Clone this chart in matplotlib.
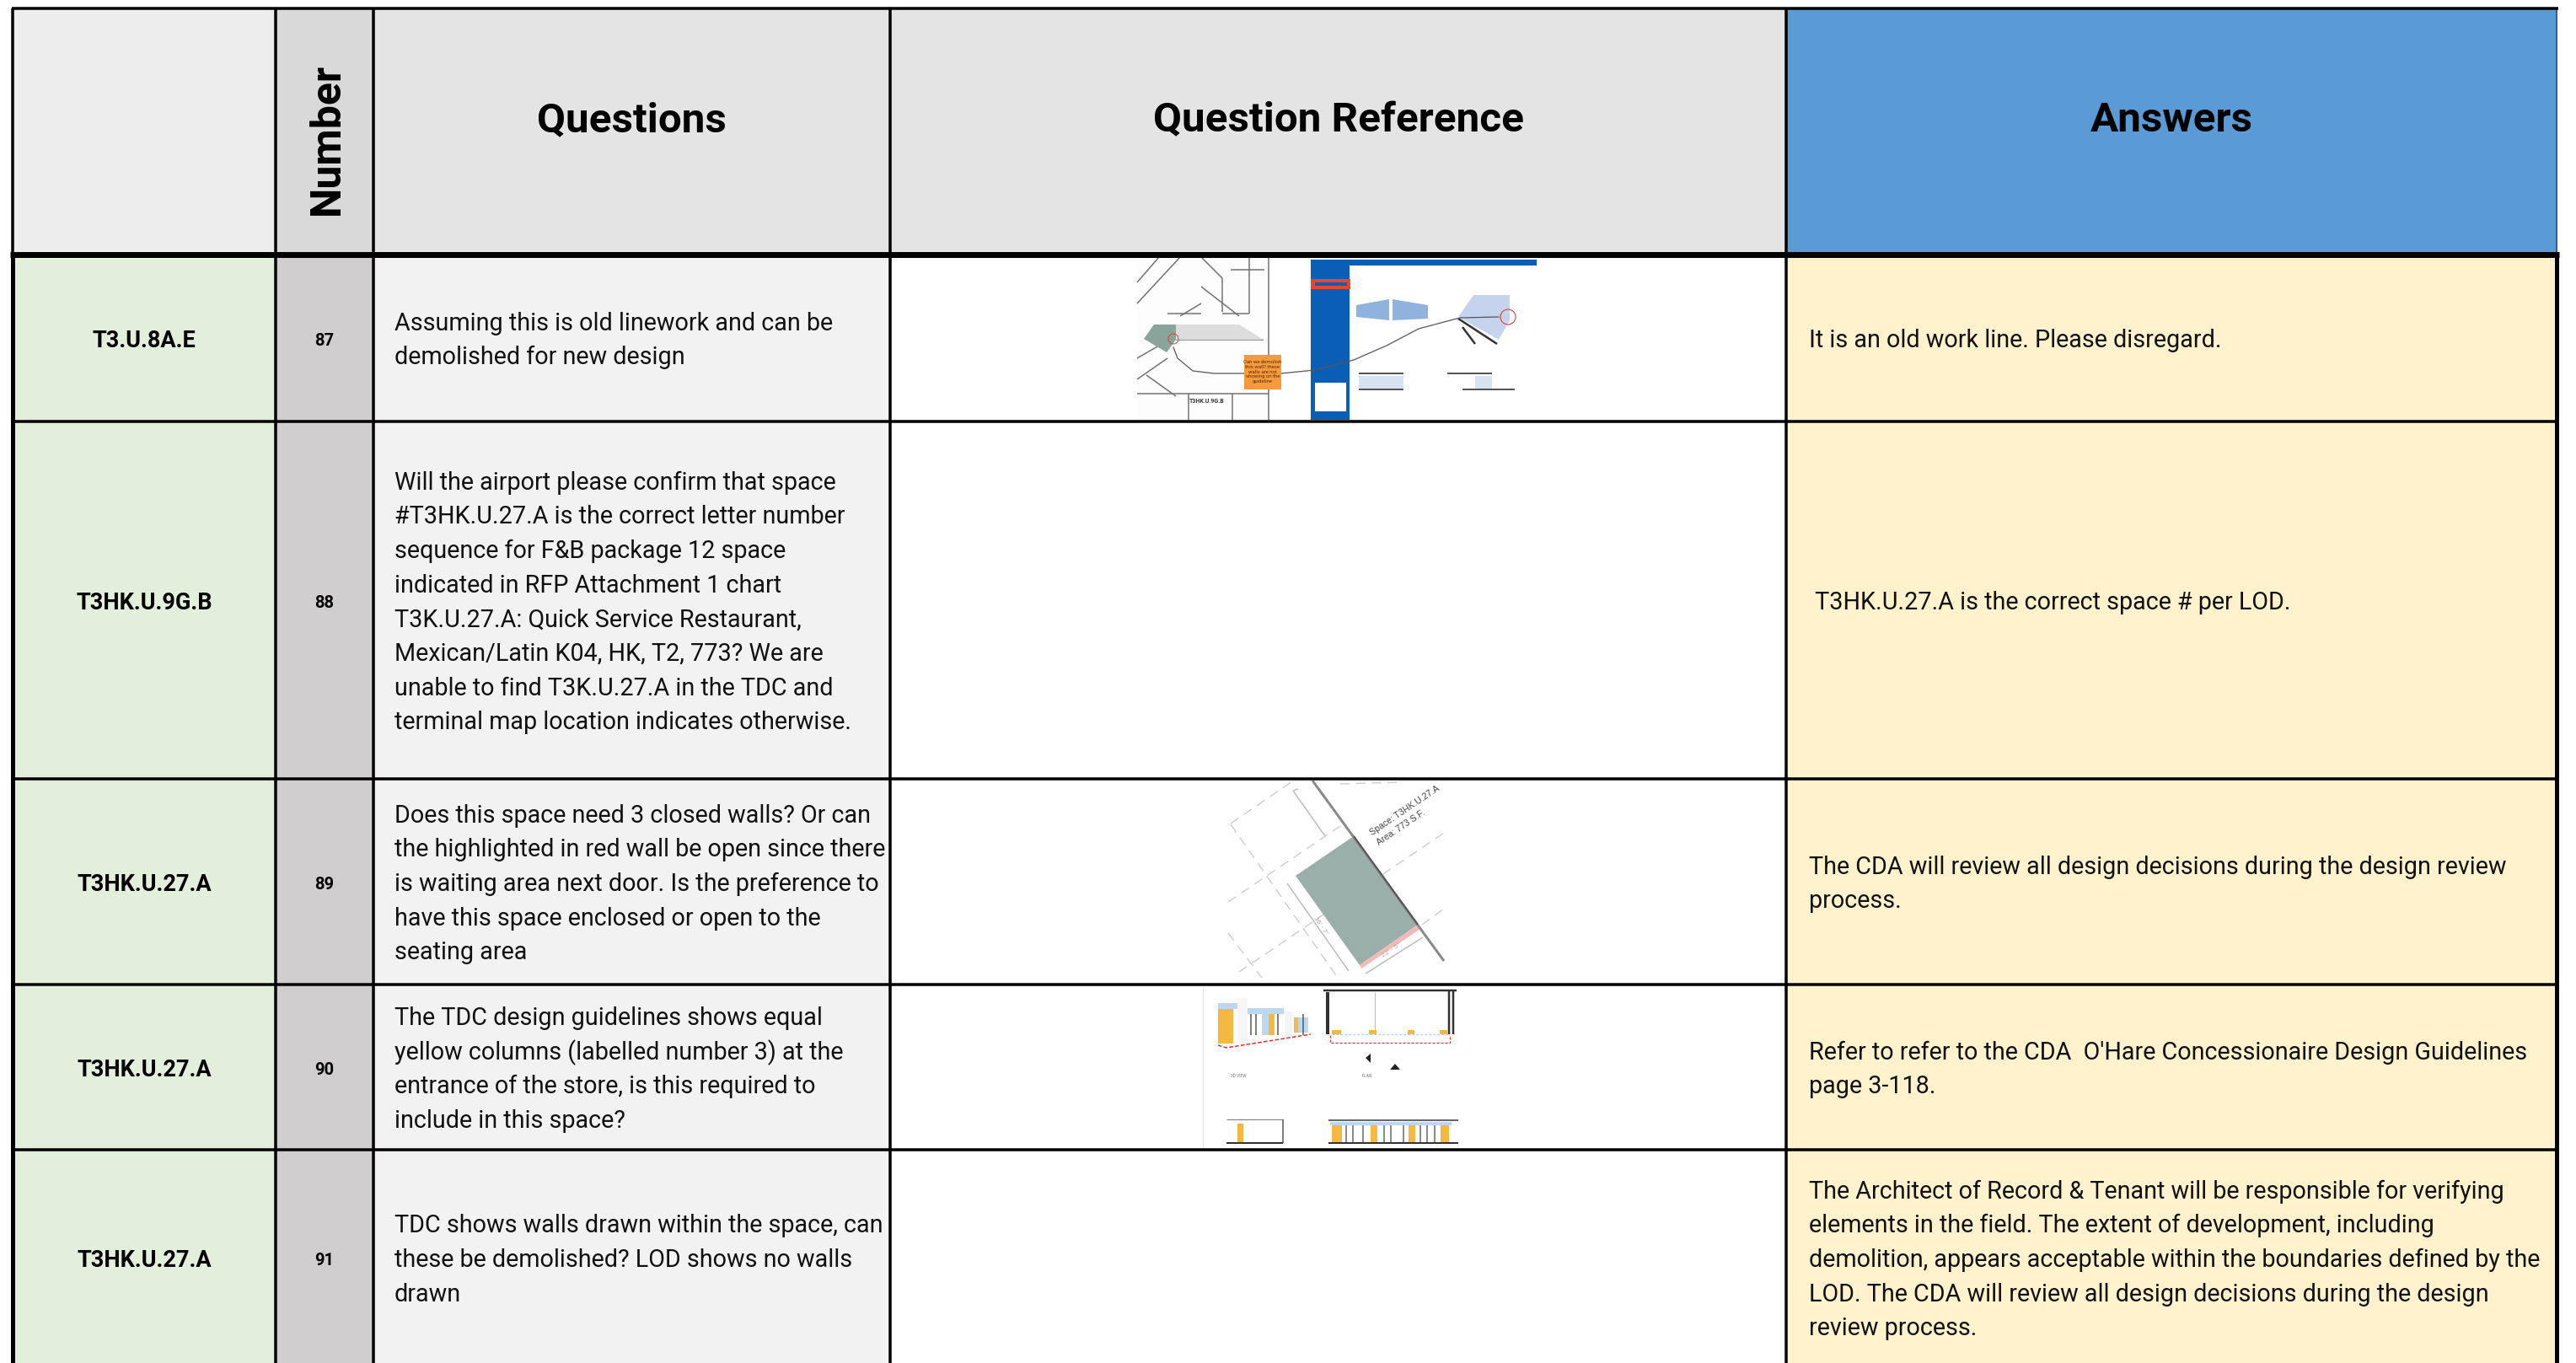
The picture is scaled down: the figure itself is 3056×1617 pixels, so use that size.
import matplotlib
matplotlib.use("Agg")
import matplotlib.pyplot as plt
from matplotlib.patches import Rectangle, Polygon, Circle

W, H = 3056, 1617

plt.rcParams['font.family'] = ['Roboto', 'DejaVu Sans']

col_edges = [15, 327, 443, 1056, 2119, 3033]
row_edges = [302, 500, 924, 1168, 1364, 1660]
header_labels = ["", "Number", "Questions", "Question Reference", "Answers"]
header_colors = ["#ededed", "#d9d9d9", "#e4e4e4", "#e4e4e4", "#5b9bd5"]

space_ids = ["T3.U.8A.E", "T3HK.U.9G.B", "T3HK.U.27.A", "T3HK.U.27.A", "T3HK.U.27.A"]
numbers = ["87", "88", "89", "90", "91"]
questions = [
    ["Assuming this is old linework and can be", "demolished for new design"],
    ["Will the airport please confirm that space", "#T3HK.U.27.A is the correct letter number",
     "sequence for F&B package 12 space", "indicated in RFP Attachment 1 chart",
     "T3K.U.27.A: Quick Service Restaurant,", "Mexican/Latin K04, HK, T2, 773? We are",
     "unable to find T3K.U.27.A in the TDC and", "terminal map location indicates otherwise."],
    ["Does this space need 3 closed walls? Or can", "the highlighted in red wall be open since there",
     "is waiting area next door. Is the preference to", "have this space enclosed or open to the",
     "seating area"],
    ["The TDC design guidelines shows equal", "yellow columns (labelled number 3) at the",
     "entrance of the store, is this required to", "include in this space?"],
    ["TDC shows walls drawn within the space, can", "these be demolished? LOD shows no walls", "drawn"],
]
answers = [
    ["It is an old work line. Please disregard."],
    [" T3HK.U.27.A is the correct space # per LOD."],
    ["The CDA will review all design decisions during the design review", "process."],
    ["Refer to refer to the CDA  O'Hare Concessionaire Design Guidelines", "page 3-118."],
    ["The Architect of Record & Tenant will be responsible for verifying",
     "elements in the field. The extent of development, including",
     "demolition, appears acceptable within the boundaries defined by the",
     "LOD. The CDA will review all design decisions during the design",
     "review process."],
]
body_colors = ["#e2efda", "#d0cece", "#f2f2f2", "#ffffff", "#fff2cc"]

fig = plt.figure(figsize=(W / 100, H / 100), dpi=100)
ax = fig.add_axes([0, 0, 1, 1])
ax.set_xlim(0, W)
ax.set_ylim(H, 0)
ax.axis("off")


def rect(x0, y0, x1, y1, c, z=3):
    ax.add_patch(Rectangle((x0, y0), x1 - x0, y1 - y0, fc=c, ec="none", zorder=z))


def poly(pts, c, z=3):
    ax.add_patch(Polygon(pts, fc=c, ec="none", zorder=z))


def line(x0, y0, x1, y1, lw=3, c="black", z=5):
    ax.plot([x0, x1], [y0, y1], color=c, lw=lw * 0.72, solid_capstyle="butt", zorder=z)


def dash(x0, y0, x1, y1, c="#c8c8c8"):
    ax.plot([x0, x1], [y0, y1], color=c, lw=0.9, ls=(0, (9, 6)), zorder=2)


# header
for i in range(5):
    rect(col_edges[i], 10, col_edges[i + 1], row_edges[0], header_colors[i], 1)
    xm = (col_edges[i] + col_edges[i + 1]) / 2
    if header_labels[i] == "Number":
        ax.text(xm + 3, 165, header_labels[i], rotation=90, ha="center", va="center",
                fontsize=36, fontweight="bold")
    elif header_labels[i]:
        ax.text(xm, 143, header_labels[i], ha="center", va="center", fontsize=35.6, fontweight="bold")

# body cells
for r in range(5):
    y0, y1 = row_edges[r], row_edges[r + 1]
    ym = (y0 + y1) / 2 + 3
    for i in range(5):
        rect(col_edges[i], y0, col_edges[i + 1], y1, body_colors[i], 1)
    if r == 4:
        ym = 1495
    ax.text((col_edges[0] + col_edges[1]) / 2, ym, space_ids[r], ha="center", va="center",
            fontsize=19.5, fontweight="bold")
    ax.text((col_edges[1] + col_edges[2]) / 2, ym, numbers[r], ha="center", va="center",
            fontsize=14.5, fontweight="bold")
    for lines, xt in ((questions[r], 468), (answers[r], 2146)):
        n = len(lines)
        for k, s in enumerate(lines):
            ax.text(xt, ym + (k - (n - 1) / 2) * 40.7, s, ha="left", va="center", fontsize=20.7, color="#111111")

# grid
for x in col_edges[1:-1]:
    line(x, 10, x, H, 3.5)
line(col_edges[0], 10, col_edges[0], row_edges[0], 3.5)
line(col_edges[5], 10, col_edges[5], row_edges[0], 2, "#2f5f90")
line(col_edges[5], row_edges[0], col_edges[5], H, 5)
line(col_edges[0], row_edges[0], col_edges[0], H, 5)
line(14, 10, 3035, 10, 3.5)
line(12, row_edges[0], 3036, row_edges[0], 7)
for y in row_edges[1:5]:
    line(14, y, 3036, y, 3.5)


def thumb_87():
    rect(1349, 305, 1505, 498, "#fdfdfd", 2)
    # plan linework
    for x0, y0, x1, y1 in [(1349, 335, 1375, 305), (1349, 360, 1400, 305), (1425, 305, 1450, 330),
                           (1450, 330, 1450, 370), (1425, 340, 1470, 375), (1450, 372, 1482, 372),
                           (1482, 305, 1482, 372), (1460, 320, 1500, 320), (1400, 375, 1425, 360),
                           (1385, 372, 1425, 372), (1349, 425, 1375, 410), (1349, 450, 1385, 425),
                           (1360, 445, 1395, 470), (1349, 467, 1505, 467), (1505, 305, 1505, 498),
                           (1410, 467, 1410, 498), (1462, 467, 1462, 498), (1395, 403, 1499, 403)]:
        line(x0, y0, x1, y1, 1.5, "#707070", 3)
    poly([[1395, 385], [1470, 385], [1499, 403], [1395, 403]], "#dddddd")
    poly([[1357, 402], [1369, 385], [1395, 385], [1395, 403], [1384, 418]], "#8aa39b")
    ax.add_patch(Circle((1392, 402), 6, fc="none", ec="#e04030", lw=0.7, zorder=4))
    ax.text(1411, 476, "T3HK.U.9G.B", ha="left", va="center", fontsize=5, fontweight="bold", color="#333333", zorder=6)
    # guideline page
    rect(1555, 308, 1823, 498, "#ffffff", 2)
    rect(1555, 308, 1601, 498, "#0a5fb4", 3)
    rect(1555, 308, 1823, 315, "#0a5fb4", 3)
    rect(1555, 331, 1602, 343, "#e8452a", 4)
    rect(1560, 335, 1598, 339, "#0a5fb4", 5)
    rect(1560, 454, 1597, 488, "#ffffff", 4)
    poly([[1609, 362], [1648, 355], [1648, 380], [1609, 376]], "#8fb3dd")
    poly([[1652, 355], [1694, 362], [1694, 378], [1652, 380]], "#8fb3dd")
    poly([[1730, 376], [1748, 350], [1791, 350], [1791, 380], [1778, 403]], "#c5d3ee")
    line(1730, 378, 1776, 408, 2.5, "#333333", 5)
    line(1735, 388, 1750, 408, 2.5, "#333333", 5)
    ax.add_patch(Circle((1789, 376), 9, fc="none", ec="#e04030", lw=0.8, zorder=6))
    rect(1612, 446, 1665, 462, "#d7e3f3", 3)
    line(1612, 443, 1665, 443, 2, "#555555", 4)
    line(1612, 462, 1665, 462, 2, "#555555", 4)
    rect(1750, 446, 1770, 462, "#d7e3f3", 3)
    line(1717, 443, 1770, 443, 2, "#555555", 4)
    line(1735, 462, 1797, 462, 2, "#555555", 4)
    # sticky note and connector
    rect(1476, 421, 1520, 462, "#f79a3e", 6)
    ax.text(1498, 441, "Can we demolish\nthis wall? these\nwalls are not\nshowing on the\nguideline", ha="center",
            va="center", fontsize=4.3, color="#5a3000", zorder=7, linespacing=1.15)
    ax.plot([1392, 1397, 1415, 1440, 1476], [412, 425, 440, 443, 443], color="#555555", lw=0.9, zorder=5)
    ax.plot([1520, 1560, 1606, 1645, 1683, 1732, 1778], [443, 439, 427, 410, 390, 377, 376],
            color="#555555", lw=0.9, zorder=5)


def thumb_89():
    poly([[1606, 992], [1682, 1097], [1613, 1145], [1537, 1039]], "#9aaeaa")
    poly([[1682, 1097], [1685, 1102], [1615, 1149], [1613, 1145]], "#f6b8b8")
    line(1557, 926, 1713, 1140, 3, "#8a8a8a", 4)
    line(1606, 992, 1682, 1097, 2, "#555555", 5)
    for seg in [(1460, 977, 1533, 927), (1457, 1070, 1590, 980), (1470, 1153, 1713, 988),
                (1687, 1097, 1713, 1078), (1460, 978, 1587, 1160), (1457, 1107, 1497, 1160),
                (1590, 930, 1660, 928)]:
        dash(*seg)
    for seg in [(1534, 938, 1572, 992), (1534, 938, 1540, 936), (1527, 1048, 1600, 1152),
                (1620, 1155, 1688, 1112)]:
        line(*seg, 1.5, "#bcbcbc", 2)
    ax.text(1667, 962, "Space: T3HK.U.27.A", rotation=34, ha="center", va="center",
            fontsize=7.6, color="#444444", zorder=6, fontfamily="Liberation Sans", rotation_mode="anchor")
    ax.text(1662, 982, "Area: 773 S.F.", rotation=34, ha="center", va="center",
            fontsize=7.6, color="#444444", zorder=6, fontfamily="Liberation Sans", rotation_mode="anchor")
    ax.text(1567, 1098, "36' - 7\"", rotation=-56, ha="center", va="center", fontsize=6, color="#aaaaaa", zorder=6)
    ax.text(1650, 1127, "22' - 5\"", rotation=34, ha="center", va="center", fontsize=6, color="#aaaaaa", zorder=6)


def thumb_90():
    line(1427, 1170, 1427, 1362, 1, "#e4e4e4", 2)
    # 3D view
    rect(1445, 1197, 1463, 1238, "#f5b942")
    rect(1445, 1190, 1468, 1197, "#bcd7f0")
    rect(1468, 1184, 1480, 1240, "#f6f6f6")
    rect(1480, 1196, 1523, 1203, "#bcd7f0")
    rect(1497, 1203, 1505, 1228, "#bcd7f0")
    rect(1505, 1203, 1512, 1228, "#f5b942")
    rect(1524, 1200, 1533, 1230, "#f4f4f4")
    rect(1535, 1207, 1540, 1225, "#f5b942")
    rect(1540, 1207, 1552, 1225, "#bcd7f0")
    ax.plot([1445, 1455, 1555], [1240, 1243, 1227], color="#e03030", lw=1.1, ls=(0, (3, 1.5)), zorder=4)
    for xb in [1484, 1490, 1516, 1546]:
        line(xb, 1203, xb, 1228, 1.5, "#555555", 3)
    # plan
    line(1570, 1175, 1728, 1175, 2.5, "#333333", 3)
    line(1575, 1177, 1575, 1227, 4, "#333333", 3)
    line(1719, 1175, 1719, 1227, 2.5, "#333333", 3)
    line(1724, 1175, 1724, 1227, 2.5, "#333333", 3)
    for xb0, xb1 in [(1580, 1591), (1624, 1633), (1670, 1678), (1708, 1717)]:
        rect(xb0, 1222, xb1, 1227, "#f5b942")
    ax.plot([1580, 1718], [1227, 1227], color="#a5cdf0", lw=0.9, ls=(0, (2, 2)), zorder=3)
    ax.plot([1578, 1578, 1720, 1720], [1228, 1237, 1237, 1228], color="#e03030", lw=0.9, ls=(0, (2.5, 1.5)), zorder=4)
    line(1631, 1177, 1631, 1222, 1, "#bbbbbb", 2)
    poly([[1620, 1255], [1626, 1250], [1626, 1261]], "#222222")
    poly([[1649, 1269], [1655, 1262], [1661, 1269]], "#222222")
    ax.text(1460, 1276, "3D VIEW", fontsize=3.5, color="#777777", zorder=4, va="center")
    ax.text(1616, 1276, "PLAN", fontsize=3.5, color="#777777", zorder=4, va="center")
    # sections
    line(1455, 1356, 1522, 1356, 2, "#333333", 3)
    line(1455, 1328, 1522, 1328, 1, "#777777", 3)
    line(1522, 1328, 1522, 1356, 1.5, "#555555", 3)
    rect(1468, 1333, 1475, 1355, "#f5b942")
    line(1576, 1356, 1730, 1356, 2, "#333333", 3)
    line(1576, 1329, 1730, 1329, 2, "#666666", 3)
    rect(1578, 1331, 1722, 1335, "#bcd7f0")
    for xb0, xb1 in [(1580, 1592), (1626, 1634), (1671, 1679), (1709, 1719)]:
        rect(xb0, 1335, xb1, 1355, "#f5b942")
    for xb in [1597, 1605, 1617, 1642, 1650, 1665, 1685, 1693, 1702]:
        line(xb, 1335, xb, 1355, 1.5, "#666666", 3)


thumb_87()
thumb_89()
thumb_90()

ax.set_xlim(0, W)
ax.set_ylim(H, 0)
fig.savefig("out.png", dpi=100, facecolor="white")
